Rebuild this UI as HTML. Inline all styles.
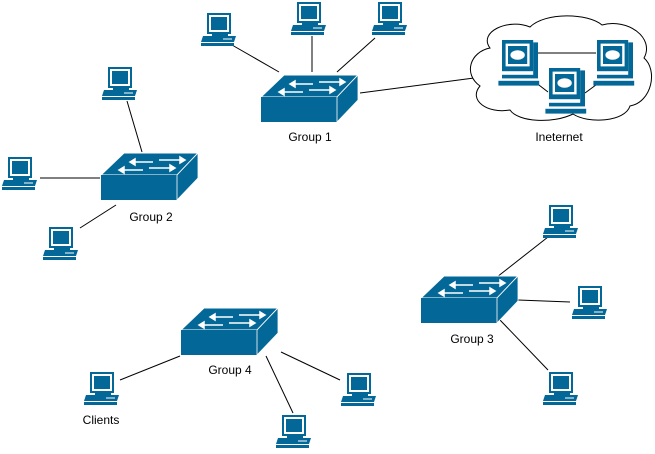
<!DOCTYPE html>
<html><head><style>body{margin:0;background:#fff}svg{display:block}text{font-family:"Liberation Sans",sans-serif;font-size:12px;fill:#000}</style></head>
<body>
<svg width="655" height="454" viewBox="0 0 655 454" xmlns="http://www.w3.org/2000/svg">
<defs>
<g id="pc">
<rect x="7" y="0" width="22" height="19" fill="#fff" stroke="#036897" stroke-width="2"/>
<rect x="10" y="3" width="16" height="13" fill="#036897"/>
<rect x="11" y="19" width="16" height="3" fill="#036897"/>
<polygon points="2,22 35,22 33,28 0,28" fill="#036897"/>
<line x1="22" y1="25" x2="31" y2="25" stroke="#fff" stroke-width="1"/>
<rect x="0" y="29" width="33" height="3" fill="#036897"/>
</g>
<g id="sw">
<polygon points="23,0 97,0 76,22 0,22" fill="#036897" stroke="#fff" stroke-width="1"/>
<rect x="0" y="22" width="76" height="25" fill="#036897"/>
<polygon points="76,22 97,0 97,25 76,47" fill="#036897" stroke="#fff" stroke-width="0.8"/>
<g stroke="#fff" stroke-width="1.5" fill="#fff">
<line x1="32" y1="9" x2="52" y2="9"/><polygon points="29,9 34,6 34,12"/>
<line x1="58" y1="7" x2="80" y2="7"/><polygon points="84,7 79,4 79,10"/>
<line x1="22" y1="17" x2="42" y2="17"/><polygon points="18,17 23,14 23,20"/>
<line x1="48" y1="15" x2="70" y2="15"/><polygon points="74,15 69,12 69,18"/>
</g>
</g>
<g id="ipc">
<rect x="0" y="0" width="26" height="26" fill="#036897"/>
<rect x="26" y="2" width="4" height="28" fill="#036897"/>
<rect x="3" y="3" width="20" height="19" fill="#fff"/>
<rect x="5" y="5" width="16" height="15" fill="#036897"/>
<ellipse cx="13" cy="12.5" rx="6" ry="4" fill="#fff"/>
<rect x="0" y="29" width="30" height="3" fill="#036897"/>
<rect x="-3" y="34" width="34" height="4" fill="#036897"/>
</g>
</defs>
<g stroke="#000" stroke-width="1">
<line x1="232" y1="45" x2="279" y2="72"/>
<line x1="312" y1="36" x2="312" y2="72"/>
<line x1="375" y1="38" x2="337" y2="72"/>
<line x1="360" y1="93" x2="474" y2="78"/>
<line x1="127" y1="101" x2="142" y2="152"/>
<line x1="40" y1="178" x2="100" y2="178"/>
<line x1="80" y1="228" x2="116" y2="205"/>
<line x1="548" y1="237" x2="497" y2="277"/>
<line x1="518" y1="300" x2="570" y2="302"/>
<line x1="500" y1="320" x2="548" y2="370"/>
<line x1="120" y1="380" x2="180" y2="356"/>
<line x1="281" y1="352" x2="340" y2="380"/>
<line x1="266" y1="356" x2="293" y2="413"/>
</g>
<path d="M490,48 C478,32 508,18 530,27 C545,12 588,13 602,25 C628,18 655,38 644,58 C658,70 652,102 630,106 C625,122 588,124 573,114 C553,124 518,122 510,110 C487,114 468,100 480,86 C463,74 470,52 490,48 Z" fill="#fff" stroke="#000" stroke-width="1"/>
<g stroke="#000" stroke-width="1"><line x1="538" y1="53" x2="596" y2="53"/><line x1="535" y1="82" x2="548" y2="92"/><line x1="600" y1="82" x2="585" y2="93"/></g>
<g transform="translate(502,40) scale(1.2)"><use href="#ipc" x="0" y="0"/></g>
<g transform="translate(597,40) scale(1.2)"><use href="#ipc" x="0" y="0"/></g>
<g transform="translate(549,68) scale(1.2)"><use href="#ipc" x="0" y="0"/></g>
<use href="#sw" x="261" y="75"/>
<use href="#sw" x="101" y="153"/>
<use href="#sw" x="421" y="276"/>
<use href="#sw" x="181" y="308"/>
<use href="#pc" x="201" y="14"/>
<use href="#pc" x="291" y="3"/>
<use href="#pc" x="372" y="3"/>
<use href="#pc" x="102" y="68"/>
<use href="#pc" x="2" y="158"/>
<use href="#pc" x="43" y="228"/>
<use href="#pc" x="543" y="206"/>
<use href="#pc" x="572" y="287"/>
<use href="#pc" x="543" y="373"/>
<use href="#pc" x="84" y="373"/>
<use href="#pc" x="341" y="374"/>
<use href="#pc" x="276" y="416"/>
<text x="310" y="141" text-anchor="middle">Group 1</text>
<text x="559" y="141" text-anchor="middle">Ineternet</text>
<text x="151" y="221" text-anchor="middle">Group 2</text>
<text x="472" y="343" text-anchor="middle">Group 3</text>
<text x="230" y="374" text-anchor="middle">Group 4</text>
<text x="101" y="424" text-anchor="middle">Clients</text>
</svg>
</body></html>
